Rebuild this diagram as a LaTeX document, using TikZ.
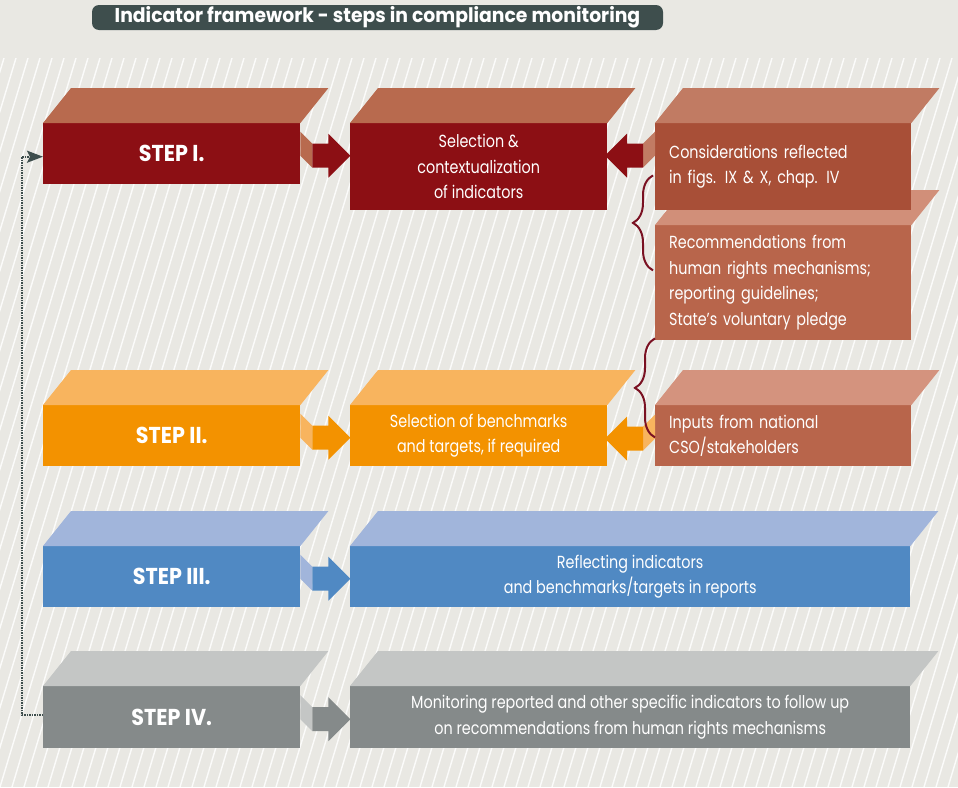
\documentclass[tikz,border=0pt]{standalone}
\usepackage{fontspec}
\setmainfont{Poppins}[FakeStretch=0.82]
\newfontfamily\headfont{Poppins}[FakeStretch=0.9]
\newfontfamily\bannerfont{Poppins}[FakeStretch=0.94]
\usetikzlibrary{calc,arrows.meta,decorations.pathreplacing}

\definecolor{paper}{HTML}{E9E8E3}
\definecolor{slate}{HTML}{3E4E4D}
\definecolor{wine}{HTML}{8C0F14}
\definecolor{winetop}{HTML}{B86A4E}
\definecolor{rust}{HTML}{A84F37}
\definecolor{rusttop}{HTML}{C17B63}
\definecolor{clay}{HTML}{B8654B}
\definecolor{claytop}{HTML}{D18F79}
\definecolor{claylight}{HTML}{D4937E}
\definecolor{amber}{HTML}{F39200}
\definecolor{ambertop}{HTML}{F8B45E}
\definecolor{steel}{HTML}{5089C3}
\definecolor{steeltop}{HTML}{A1B5DB}
\definecolor{ash}{HTML}{858A8A}
\definecolor{ashtop}{HTML}{C4C6C5}
\definecolor{bracered}{HTML}{7A1122}

\tikzset{
  face/.style={inner sep=0pt, anchor=north west, text=white,
    font=\fontsize{17.5}{25.5}\selectfont},
  stepbox/.style={face, minimum width=257pt, minimum height=#1,
    font=\headfont\bfseries\fontsize{23}{27}\selectfont},
  midbox/.style={face, minimum width=257pt, minimum height=#1, align=center},
  widebox/.style={face, minimum width=560pt, minimum height=#1, align=center},
  sidebox/.style={face, text width=228pt, inner xsep=14pt, minimum height=#1, align=left},
  bracket/.style={draw=bracered, line width=2pt, decorate,
    decoration={brace, amplitude=20pt}},
  loopline/.style={draw=slate, line width=2pt, dash pattern=on 1.4pt off 1.1pt,
    -{Stealth[length=16pt, width=12pt, inset=3pt]}},
  hatch/.style={white, line width=1.4pt, opacity=0.85},
}

% top face of a block, seen from above
\newcommand\topface[2]{%
  \fill[#2] (#1.north west) -- (#1.north east) -- ++(28,-35)
    -- ($(#1.north west)+(28,-35)$) -- cycle;}

% flat 3-D arrow: base point, direction (1 or -1), body colour, top colour
\newcommand\blockarrow[4]{%
  \begin{scope}[shift={(#1)}, xscale=#2]
    \fill[#4] (0,-24) -- (12,-12) -- (12,12) -- (0,0) -- cycle;
    \fill[#3] (12,-12) -- (28,-12) -- (28,-22) -- (50,0) -- (28,22)
      -- (28,12) -- (12,12) -- cycle;
  \end{scope}}

\begin{document}
\begin{tikzpicture}[x=1pt, y=-1pt]
  \useasboundingbox (0,0) rectangle (958,787);
  \fill[paper] (0,0) rectangle (958,787);

  % striped backdrop
  \begin{scope}
    \clip (0,58) rectangle (958,787);
    \foreach \i in {-300,-288,...,970}
      \draw[hatch] (\i,787) -- (\i+220,58);
  \end{scope}

  % heading
  \node[fill=slate, rounded corners=7pt, minimum width=571pt, minimum height=25pt,
        inner sep=0pt, text=white, font=\bannerfont\bfseries\fontsize{20}{22}\selectfont]
    (title) at (377.5,17.5) {Indicator framework - steps in compliance monitoring};

  % row I
  \node[stepbox=61pt, fill=wine] (s1) at (43,123) {STEP I.};
  \topface{s1}{winetop}
  \node[midbox=87pt, fill=wine] (sel) at (350,123)
    {Selection \&\\contextualization\\of indicators};
  \topface{sel}{winetop}
  \node[sidebox=115pt, fill=clay] (rec) at (655,225)
    {Recommendations from\\human rights mechanisms;\\reporting guidelines;\\State’s voluntary pledge};
  \topface{rec}{claytop}
  \node[sidebox=87pt, fill=rust] (cons) at (655,123)
    {Considerations reflected\\in figs. IX \& X, chap. IV};
  \topface{cons}{rusttop}

  % row II
  \node[stepbox=61pt, fill=amber] (s2) at (43,405) {STEP II.};
  \topface{s2}{ambertop}
  \node[midbox=61pt, fill=amber] (bench) at (350,405)
    {Selection of benchmarks\\and targets, if required};
  \topface{bench}{ambertop}
  \node[sidebox=61pt, fill=clay] (inp) at (655,405)
    {Inputs from national\\CSO/stakeholders};
  \topface{inp}{claylight}

  % row III
  \node[stepbox=61pt, fill=steel] (s3) at (43,546) {STEP III.};
  \topface{s3}{steeltop}
  \node[widebox=61pt, fill=steel] (refl) at (350,546)
    {Reflecting indicators\\and benchmarks/targets in reports};
  \topface{refl}{steeltop}

  % row IV
  \node[stepbox=62pt, fill=ash] (s4) at (43,686) {STEP IV.};
  \topface{s4}{ashtop}
  \node[widebox=62pt, fill=ash] (mon) at (350,686)
    {Monitoring reported and other specific indicators to follow up\\on recommendations from human rights mechanisms};
  \topface{mon}{ashtop}

  % arrows between blocks
  \coordinate (a1) at ($(s1.east)+(0,2)$);
  \coordinate (a1b) at ($(cons.west |- s1.east)+(0,2)$);
  \coordinate (a2) at ($(s2.east)+(0,2)$);
  \coordinate (a2b) at ($(inp.west |- s2.east)+(0,3)$);
  \coordinate (a3) at ($(s3.east)+(0,2)$);
  \coordinate (a4) at ($(s4.east)+(0,2)$);
  \blockarrow{a1}{1}{wine}{winetop}
  \blockarrow{a1b}{-1}{wine}{rusttop}
  \blockarrow{a2}{1}{amber}{ambertop}
  \blockarrow{a2b}{-1}{amber}{ambertop}
  \blockarrow{a3}{1}{steel}{steeltop}
  \blockarrow{a4}{1}{ash}{ashtop}

  % grouping braces
  \coordinate (b1top) at ($(cons.south west)+(-2,-35)$);
  \coordinate (b1bot) at ($(cons.south west)+(-2,60)$);
  \coordinate (b2top) at ($(rec.south west)+(0,-2)$);
  \coordinate (b2bot) at ($(rec.south west)+(0,97)$);
  \draw[bracket] (b1bot) -- (b1top);
  \draw[bracket] (b2bot) -- (b2top);

  % feedback loop from the last step back to the first
  \coordinate (loopcorner) at ($(s4.west)+(-21,-2)$);
  \draw[loopline] ($(s4.west)+(0,-2)$) -- (loopcorner) |- ($(s1.west)+(0,3)$);
\end{tikzpicture}
\end{document}
